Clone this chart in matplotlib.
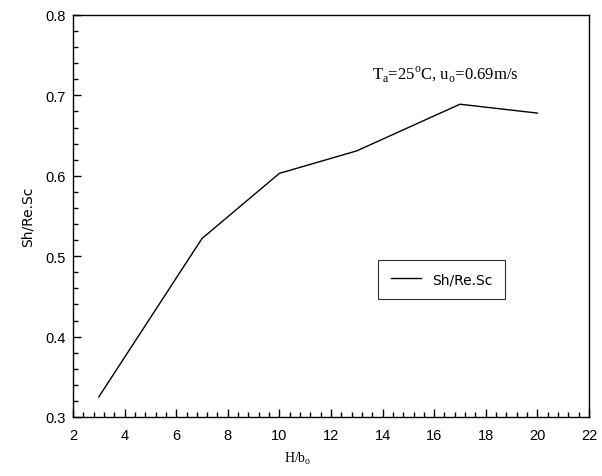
import matplotlib
matplotlib.use("Agg")
import matplotlib.pyplot as plt
from matplotlib.ticker import MultipleLocator

# data
h_over_b = [3, 7, 10, 13, 17, 20]
sh_re_sc = [0.325, 0.522, 0.603, 0.631, 0.689, 0.678]

fig = plt.figure(figsize=(6.02, 4.77), dpi=100)
ax = fig.add_axes([0.1213, 0.1237, 0.857, 0.8428])

ax.plot(h_over_b, sh_re_sc, color='black', linewidth=1.0, label='Sh/Re.Sc')

ax.set_xlim(2, 22)
ax.set_ylim(0.3, 0.8)
ax.xaxis.set_major_locator(MultipleLocator(2))
ax.xaxis.set_minor_locator(MultipleLocator(0.4))
ax.yaxis.set_major_locator(MultipleLocator(0.1))
ax.yaxis.set_minor_locator(MultipleLocator(0.02))
ax.tick_params(which='both', direction='in', top=False, right=False,
               labelsize=10.5, width=1.0)
ax.tick_params(which='major', length=6)
ax.tick_params(which='minor', length=3.5)
ax.tick_params(axis='x', which='major', pad=8)
ax.tick_params(axis='y', which='major', pad=5)
for lab in ax.get_xticklabels() + ax.get_yticklabels():
    lab.set_family('Liberation Sans')
for sp in ax.spines.values():
    sp.set_linewidth(1.0)

ax.set_ylabel('Sh/Re.Sc', fontsize=10, family='DejaVu Sans', labelpad=8)
fig.text(0.495, 0.022, r'H/b$_\mathregular{o}$', fontsize=10,
         family='Liberation Serif', ha='center', va='bottom')

ax.text(13.6, 0.727, r'T$_\mathregular{a}$=25$^\mathregular{o}$C, u$_\mathregular{o}$=0.69m/s',
        fontsize=12, family='Liberation Serif', ha='left', va='center')

leg = ax.legend(loc='center', bbox_to_anchor=(0.715, 0.343), fontsize=10,
                frameon=True, fancybox=False, handlelength=2.2,
                borderpad=0.9, edgecolor='black')
leg.get_frame().set_linewidth(0.8)

fig.savefig('out.png', dpi=100)
